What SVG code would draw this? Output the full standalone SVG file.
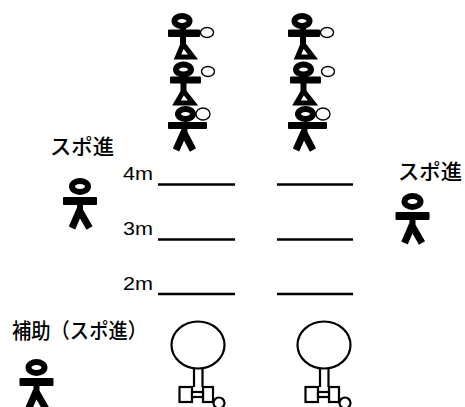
<svg xmlns="http://www.w3.org/2000/svg" width="465" height="407" viewBox="0 0 465 407">
  <style>
    .lbl { font-family: "Liberation Sans", "Noto Sans CJK JP", sans-serif; fill: #000; }
    .jp { font-size: 21px; font-weight: 500; }
    .dist { font-size: 19px; }
    .head { fill: #fff; stroke: #000; stroke-width: 6; }
    .blk { fill: #000; }
    .leg { stroke: #000; stroke-width: 7; fill: none; }
    .tri { fill: #fff; stroke: #000; stroke-width: 5; stroke-linejoin: miter; }
    .ball { fill: #fff; stroke: #000; stroke-width: 1.4; }
    .mark { stroke: #000; stroke-width: 2.5; }
    .target { fill: #fff; stroke: #000; stroke-width: 2.2; }
  </style>
  <defs>
    <!-- standing person, origin at head centre -->
    <g id="person">
      <ellipse class="head" cx="0" cy="0" rx="8" ry="5.5"/>
      <rect class="blk" x="-17" y="10.5" width="34" height="8" rx="1"/>
      <rect class="blk" x="-3" y="16" width="6" height="10"/>
      <path class="leg" d="M0 23 L-8 41.5 M0 25 L9.5 41.5"/>
    </g>
    <!-- vaulting-box style target with small ball -->
    <g id="target">
      <ellipse class="target" cx="0" cy="0" rx="26.5" ry="23.5"/>
      <path class="target" d="M-4 23.5 V42 M4.5 23.5 V42"/>
      <rect class="target" x="-18.5" y="42" width="12.5" height="15"/>
      <rect class="target" x="5" y="42" width="10" height="15"/>
      <rect class="target" x="-6" y="47" width="11" height="5"/>
      <circle class="target" cx="21" cy="58" r="5.5"/>
    </g>
    <!-- three-person tower, each holding a ball -->
    <g id="tower">
      <!-- drawn from the top person down -->
      <rect class="blk" x="180" y="26" width="6" height="18"/>
      <path class="tri" d="M183 44 L177.5 57 L193 57 Z"/>
      <ellipse class="head" cx="182" cy="21" rx="7.5" ry="5"/>
      <rect class="blk" x="168" y="29.5" width="32" height="7.5" rx="1"/>
      <ellipse class="ball" cx="207" cy="32.5" rx="6.5" ry="5"/>

      <rect class="blk" x="180.5" y="75" width="6" height="16"/>
      <path class="tri" d="M183.5 91 L176.5 103 L193 103 Z"/>
      <ellipse class="head" cx="183.5" cy="69.5" rx="7.5" ry="5"/>
      <rect class="blk" x="170" y="76.5" width="31" height="7" rx="1"/>
      <ellipse class="ball" cx="208" cy="71.5" rx="6.5" ry="5"/>

      <rect class="blk" x="168" y="122" width="39" height="7" rx="1"/>
      <rect class="blk" x="181.5" y="127" width="6" height="8"/>
      <path class="leg" d="M184.5 131 L176 150 M184.5 134 L193 150"/>
      <ellipse class="head" cx="185.5" cy="114" rx="7.5" ry="5"/>
      <ellipse class="ball" cx="203" cy="114" rx="7" ry="6"/>
    </g>
  </defs>

  <g id="tower-left"><use href="#tower"/></g>
  <g id="tower-right"><use href="#tower" transform="translate(120 0)"/></g>

  <g id="spotter-left">
    <text class="lbl jp" x="50" y="154" textLength="64" lengthAdjust="spacingAndGlyphs">スポ進</text>
    <use href="#person" transform="translate(80 186.5)"/>
  </g>

  <g id="spotter-right">
    <text class="lbl jp" x="398" y="179" textLength="64" lengthAdjust="spacingAndGlyphs">スポ進</text>
    <use href="#person" transform="translate(412.5 201.5)"/>
  </g>

  <g id="assistant">
    <text class="lbl jp" x="12" y="338" textLength="135" lengthAdjust="spacingAndGlyphs">補助（スポ進）</text>
    <use href="#person" transform="translate(36.5 367.5)"/>
  </g>

  <g id="distance-marks">
    <text class="lbl dist" x="123" y="180" textLength="30" lengthAdjust="spacingAndGlyphs">4m</text>
    <text class="lbl dist" x="123" y="235" textLength="30" lengthAdjust="spacingAndGlyphs">3m</text>
    <text class="lbl dist" x="123" y="290" textLength="30" lengthAdjust="spacingAndGlyphs">2m</text>
    <line class="mark" x1="158" y1="184.5" x2="235" y2="184.5"/>
    <line class="mark" x1="277" y1="184.5" x2="353" y2="184.5"/>
    <line class="mark" x1="158" y1="239.5" x2="235" y2="239.5"/>
    <line class="mark" x1="277" y1="239.5" x2="353" y2="239.5"/>
    <line class="mark" x1="158" y1="294" x2="235" y2="294"/>
    <line class="mark" x1="277" y1="294" x2="353" y2="294"/>
  </g>

  <g id="target-left"><use href="#target" transform="translate(198 345)"/></g>
  <g id="target-right"><use href="#target" transform="translate(324 345)"/></g>
</svg>
